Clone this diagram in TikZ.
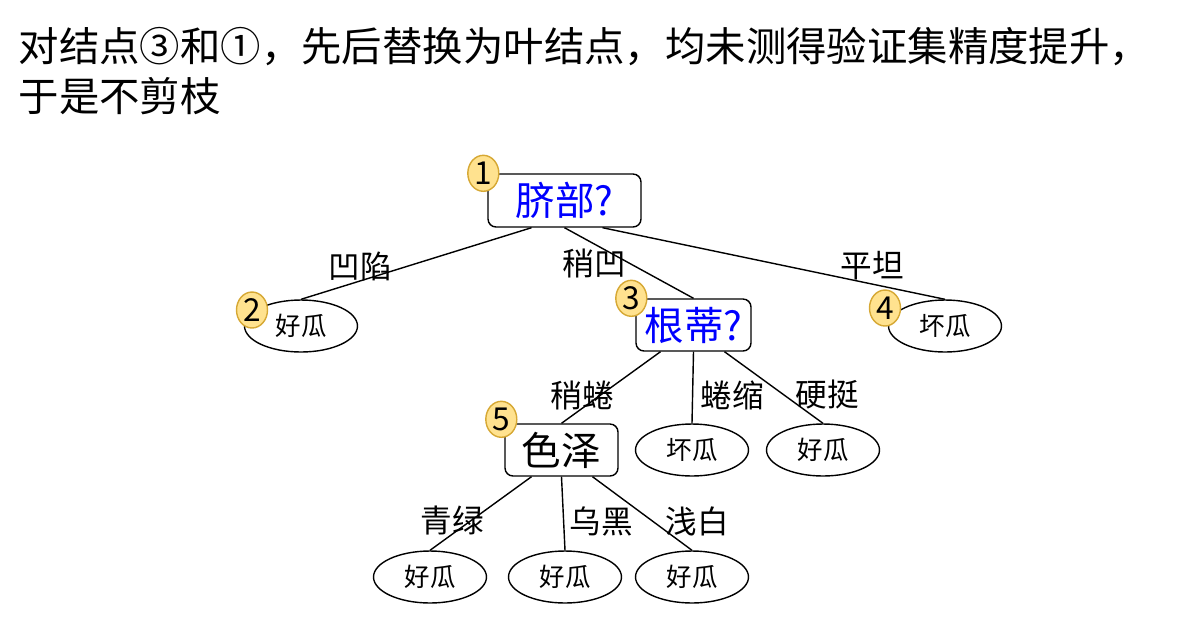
\documentclass[tikz,border=0pt]{standalone}
\usepackage{fontspec}
\setmainfont{Noto Sans CJK SC}
\usepackage{tikz}
\usetikzlibrary{calc,shapes.geometric}
\definecolor{tagfill}{RGB}{255,226,143}
\definecolor{tagline}{RGB}{214,168,52}

\begin{document}
\begin{tikzpicture}[x=0.02cm,y=-0.02cm,line width=0.8pt,
  attr/.style={draw,rounded corners=0.16cm,inner sep=0pt,font=\fontsize{22.5}{26}\selectfont},
  leaf/.style={draw,ellipse,inner sep=0pt,minimum width=2.26cm,minimum height=1.04cm,font=\fontsize{14.5}{17}\selectfont},
  val/.style={inner sep=0pt,font=\fontsize{18}{21}\selectfont},
  tag/.style={draw=tagline,fill=tagfill,ellipse,inner sep=0pt,minimum width=0.62cm,minimum height=0.72cm,font=\fontsize{18}{20}\selectfont}]
  \useasboundingbox (0,0) rectangle (1188,627);
  \node[anchor=base west,inner sep=0pt,font=\fontsize{23}{27}\selectfont] (t1) at (18,61) {对结点③和①，先后替换为叶结点，均未测得验证集精度提升，};
  \node[anchor=base west,inner sep=0pt,font=\fontsize{23}{27}\selectfont] (t2) at (18,111) {于是不剪枝};

  \node[attr,text=blue,minimum width=3.06cm,minimum height=1.06cm] (qibu) at (564.5,200.5) {脐部?};
  \node[leaf] (l2) at (301,326) {好瓜};
  \node[attr,text=blue,minimum width=2.3cm,minimum height=1.04cm] (gendi) at (693.5,325) {根蒂?};
  \node[leaf] (l4) at (945,326) {坏瓜};
  \node[attr,minimum width=2.26cm,minimum height=1.04cm] (sezhe) at (561.5,450) {色泽};
  \node[leaf] (g2) at (692,450) {坏瓜};
  \node[leaf] (g3) at (823,450) {好瓜};
  \node[leaf] (s1) at (430,577) {好瓜};
  \node[leaf] (s2) at (565,577) {好瓜};
  \node[leaf] (s3) at (692,577) {好瓜};

  \draw ($(qibu.south)+(-33,0)$) -- (l2.north);
  \draw (qibu.south) -- (gendi.north);
  \draw ($(qibu.south)+(38,0)$) -- (l4.north);
  \draw ($(gendi.south)+(-33,0)$) -- (sezhe.north);
  \draw (gendi.south) -- (g2.north);
  \draw ($(gendi.south)+(31,0)$) -- (g3.north);
  \draw ($(sezhe.south)+(-30,0)$) -- (s1.north);
  \draw (sezhe.south) -- (s2.north);
  \draw ($(sezhe.south)+(31,0)$) -- (s3.north);

  \node[val] (v1) at (360,266) {凹陷};
  \node[val] (v2) at (594,263) {稍凹};
  \node[val] (v3) at (872,266) {平坦};
  \node[val] (v4) at (582,395) {稍蜷};
  \node[val] (v5) at (732,395) {蜷缩};
  \node[val] (v6) at (827,395) {硬挺};
  \node[val] (v7) at (452,521) {青绿};
  \node[val] (v8) at (601,521) {乌黑};
  \node[val] (v9) at (697,521) {浅白};

  \node[tag] (n1) at ($(qibu.north west)+(-4,0)$) {1};
  \node[tag] (n2) at ($(l2.center)+(-49,-16)$) {2};
  \node[tag] (n3) at ($(gendi.north west)+(-4,0)$) {3};
  \node[tag] (n4) at ($(l4.center)+(-60,-18)$) {4};
  \node[tag] (n5) at ($(sezhe.north west)+(-3,-4)$) {5};
\end{tikzpicture}
\end{document}
